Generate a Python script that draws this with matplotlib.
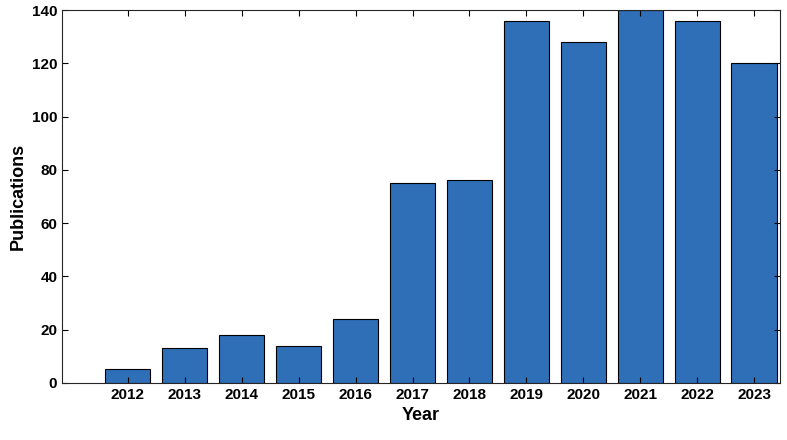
import matplotlib.pyplot as plt

years = [2012, 2013, 2014, 2015, 2016, 2017, 2018, 2019, 2020, 2021, 2022, 2023]
publications = [5, 13, 18, 14, 24, 75, 76, 136, 128, 140, 136, 120]

plt.rcParams['font.family'] = ['Liberation Sans', 'DejaVu Sans']
plt.rcParams['font.weight'] = 'bold'

fig, ax = plt.subplots(figsize=(7.87, 4.4), dpi=100)
fig.subplots_adjust(left=0.079, right=0.991, top=0.977, bottom=0.13)

ax.bar(years, publications, width=0.8, color='#2F6FB8', edgecolor='black', linewidth=0.8)
ax.set_xlim(2010.85, 2023.45)
ax.set_ylim(0, 140)
ax.set_xticks(years)
ax.set_yticks(range(0, 141, 20))
ax.tick_params(direction='in', labelsize=11, length=4, top=True, right=True)
for lbl in ax.get_xticklabels() + ax.get_yticklabels():
    lbl.set_fontweight('bold')
ax.set_xlabel('Year', fontsize=13, fontweight='bold')
ax.set_ylabel('Publications', fontsize=13, fontweight='bold')
for s in ax.spines.values():
    s.set_linewidth(0.8)
    s.set_color('#262626')

fig.savefig('out.png', dpi=100)
